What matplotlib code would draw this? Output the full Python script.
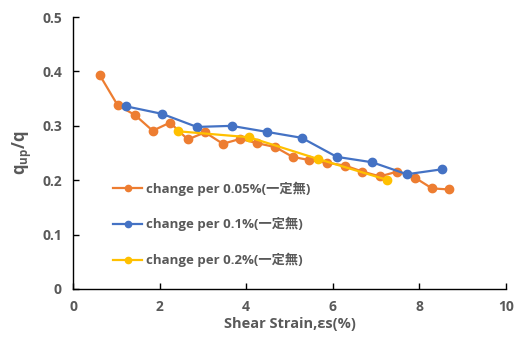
import matplotlib
matplotlib.use("Agg")
import matplotlib.pyplot as plt
from matplotlib.font_manager import FontProperties

plt.rcParams['font.family'] = ['Open Sans', 'Noto Sans CJK JP', 'DejaVu Sans']

# data
x_005 = [0.62, 1.03, 1.43, 1.84, 2.24, 2.65, 3.05, 3.46, 3.86, 4.26, 4.67,
         5.07, 5.46, 5.87, 6.28, 6.68, 7.09, 7.49, 7.89, 8.29, 8.69]
y_005 = [0.393, 0.338, 0.320, 0.291, 0.306, 0.275, 0.288, 0.267, 0.276, 0.268, 0.261,
         0.243, 0.237, 0.232, 0.227, 0.216, 0.207, 0.216, 0.205, 0.185, 0.183]
x_01 = [1.22, 2.06, 2.86, 3.66, 4.47, 5.28, 6.09, 6.91, 7.71, 8.51]
y_01 = [0.336, 0.322, 0.298, 0.300, 0.289, 0.278, 0.243, 0.233, 0.211, 0.220]
x_02 = [2.43, 4.07, 5.66, 7.24]
y_02 = [0.290, 0.279, 0.239, 0.201]

labels = ['change per 0.05%(一定無)', 'change per 0.1%(一定無)', 'change per 0.2%(一定無)']
colors = ['#ED7D31', '#4472C4', '#FFC000']

gray = '#595959'

fig = plt.figure(figsize=(5.23, 3.42), dpi=100)
ax = fig.add_axes([0.1396, 0.155, 0.828, 0.795])

series = [(x_005, y_005), (x_01, y_01), (x_02, y_02)]
for (xs, ys), lab, c in zip(series, labels, colors):
    ax.plot(xs, ys, '-o', color=c, lw=1.6, ms=6, label=lab)

ax.set_xlim(0, 10)
ax.set_ylim(0, 0.5)
ax.set_xticks([0, 2, 4, 6, 8, 10])
ax.set_yticks([0, 0.1, 0.2, 0.3, 0.4, 0.5])
ax.set_yticklabels(['0', '0.1', '0.2', '0.3', '0.4', '0.5'])

for s in ['top', 'right']:
    ax.spines[s].set_visible(False)
for s in ['left', 'bottom']:
    ax.spines[s].set_color('black')
    ax.spines[s].set_linewidth(1.0)

ax.tick_params(direction='in', length=4, width=1, colors='black',
               labelcolor=gray, labelsize=10, pad=8)
for t in ax.get_xticklabels() + ax.get_yticklabels():
    t.set_fontweight('bold')

ax.set_xlabel('Shear Strain,εs(%)', fontsize=10.5, fontweight='bold', color=gray, labelpad=2)
ax.set_ylabel(r'q$_{\mathregular{up}}$/q', fontsize=12, fontweight='bold', color=gray, labelpad=6)

leg_font = FontProperties(family=['Open Sans', 'Noto Sans CJK JP'], weight='bold', size=9.5)
leg = ax.legend(loc='upper left', bbox_to_anchor=(0.065, 0.44), frameon=False,
                prop=leg_font, labelspacing=1.62, handlelength=2.2, handletextpad=0.3,
                markerscale=0.75)
for t in leg.get_texts():
    t.set_color(gray)

fig.savefig('out.png', dpi=100)
